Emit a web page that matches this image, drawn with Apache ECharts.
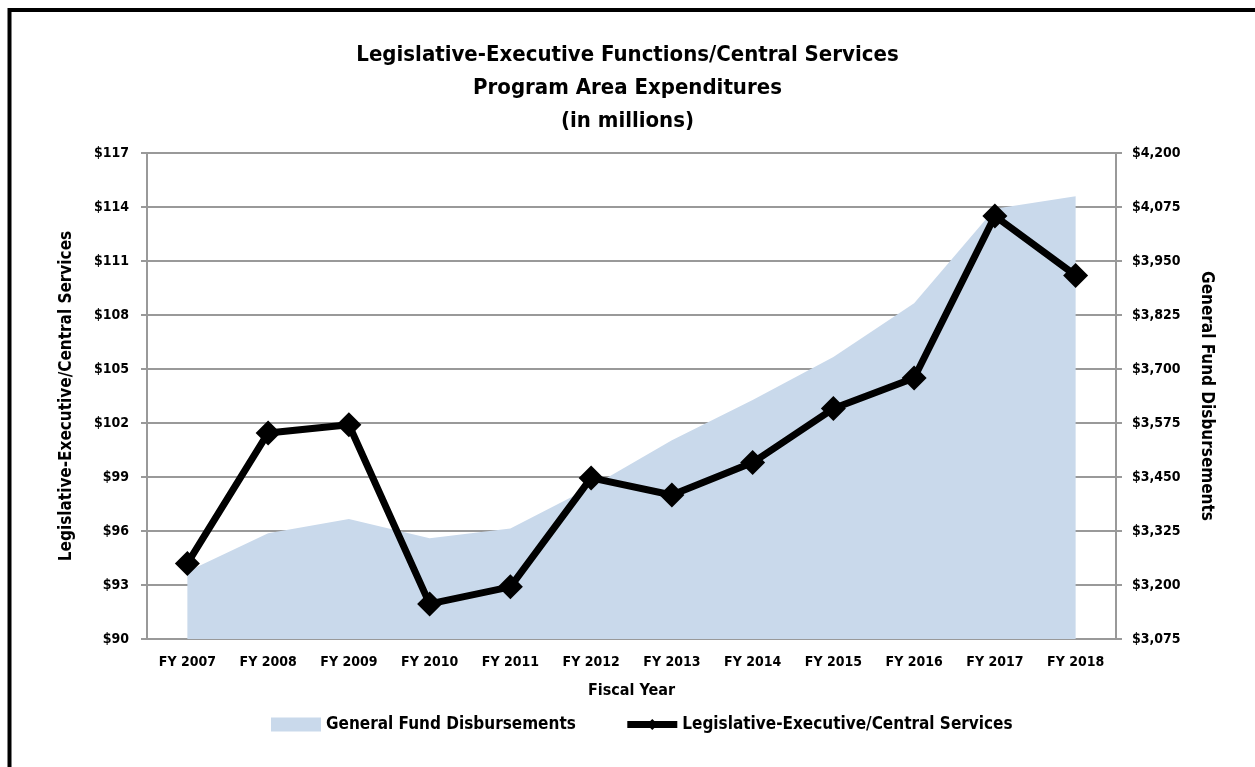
<!DOCTYPE html>
<html>
<head>
<meta charset="UTF-8">
<title>Legislative-Executive Functions/Central Services</title>
<script src="https://cdn.jsdelivr.net/npm/echarts@6/dist/echarts.min.js"></script>
<style>
  body { margin: 0; background: #fff; }
  #main { width: 1255px; height: 767px; }
</style>
</head>
<body>
<div id="main"></div>
<script type="text/javascript">
    // fiscal years
    var years = ['FY 2007', 'FY 2008', 'FY 2009', 'FY 2010', 'FY 2011', 'FY 2012',
                 'FY 2013', 'FY 2014', 'FY 2015', 'FY 2016', 'FY 2017', 'FY 2018'];
    // Legislative-Executive/Central Services ($ millions, left axis)
    var legExec = [94.2, 101.45, 101.9, 91.95, 92.9, 98.95, 98.0, 99.8, 102.8, 104.5, 113.5, 110.2];
    // General Fund Disbursements ($ millions, right axis)
    var genFund = [3231, 3320, 3353, 3308, 3331, 3427, 3535, 3628, 3728, 3852, 4071, 4100];
    // right axis tick labels
    var rightTicks = [3075, 3200, 3325, 3450, 3575, 3700, 3825, 3950, 4075, 4200];

    var font = '"Liberation Sans Narrow", "DejaVu Sans Condensed", Arial, sans-serif';
    var chart = echarts.init(document.getElementById('main'));

    function money(v) {
        return '$' + v.toLocaleString('en-US');
    }

    var option = {
        animation: false,
        backgroundColor: '#fff',
        textStyle: { fontFamily: font },
        title: {
            text: 'Legislative-Executive Functions/Central Services\nProgram Area Expenditures\n(in millions)',
            left: 'center',
            top: 34,
            textStyle: { fontFamily: font, fontSize: 22, fontWeight: 'bold', color: '#000', lineHeight: 33 }
        },
        legend: {
            bottom: 29,
            left: 266,
            itemWidth: 50,
            itemHeight: 14,
            itemGap: 48,
            textStyle: { fontFamily: font, fontSize: 17, fontWeight: 'bold', color: '#000' },
            data: [
                { name: 'General Fund Disbursements', icon: 'rect', itemStyle: { color: '#c9d9eb' } },
                { name: 'Legislative-Executive/Central Services', lineStyle: { width: 7, color: '#000' } }
            ]
        },
        grid: { left: 147, right: 139, top: 153, bottom: 128 },
        xAxis: {
            type: 'category',
            data: years,
            name: 'Fiscal Year',
            nameLocation: 'middle',
            nameGap: 44,
            nameTextStyle: { fontFamily: font, fontSize: 16, fontWeight: 'bold', color: '#000' },
            axisLine: { lineStyle: { color: '#999', width: 2 } },
            axisTick: { length: 5, lineStyle: { color: '#999', width: 2 } },
            axisLabel: { margin: 16, fontFamily: font, fontSize: 14, fontWeight: 'bold', color: '#000' }
        },
        yAxis: [{
            type: 'value',
            min: 90,
            max: 117,
            interval: 3,
            name: 'Legislative-Executive/Central Services',
            nameLocation: 'middle',
            nameRotate: 90,
            nameGap: 72,
            nameTextStyle: { fontFamily: font, fontSize: 17, fontWeight: 'bold', color: '#000' },
            axisLine: { show: true, lineStyle: { color: '#999', width: 2 } },
            axisTick: { show: true, inside: false, length: 6, lineStyle: { color: '#999', width: 2 } },
            axisLabel: { margin: 18, fontFamily: font, fontSize: 14, fontWeight: 'bold', color: '#000', formatter: money },
            splitLine: { lineStyle: { color: '#999', width: 2 } }
        }, {
            type: 'value',
            position: 'right',
            min: 3075,
            max: 4200,
            name: 'General Fund Disbursements',
            nameLocation: 'middle',
            nameRotate: -90,
            nameGap: 82,
            nameTextStyle: { fontFamily: font, fontSize: 17, fontWeight: 'bold', color: '#000' },
            axisLine: { show: true, lineStyle: { color: '#999', width: 2 } },
            axisTick: { show: true, length: 6, customValues: rightTicks, lineStyle: { color: '#999', width: 2 } },
            axisLabel: { margin: 16, fontFamily: font, fontSize: 14, fontWeight: 'bold', color: '#000',
                         customValues: rightTicks, formatter: money },
            splitLine: { show: false }
        }],
        series: [{
            name: 'General Fund Disbursements',
            type: 'line',
            yAxisIndex: 1,
            data: genFund,
            symbol: 'none',
            lineStyle: { width: 0, color: '#c9d9eb' },
            itemStyle: { color: '#c9d9eb' },
            areaStyle: { color: '#c9d9eb', opacity: 1 },
            z: 1
        }, {
            name: 'Legislative-Executive/Central Services',
            type: 'line',
            yAxisIndex: 0,
            data: legExec,
            symbol: 'diamond',
            symbolSize: 25,
            lineStyle: { color: '#000', width: 7 },
            itemStyle: { color: '#000' },
            z: 3
        }],
        graphic: [{
            type: 'polyline',
            shape: { points: [[9.5, 767], [9.5, 10], [1255, 10]] },
            style: { stroke: '#000', lineWidth: 4, fill: null }
        }]
    };
    chart.setOption(option);
</script>
</body>
</html>
